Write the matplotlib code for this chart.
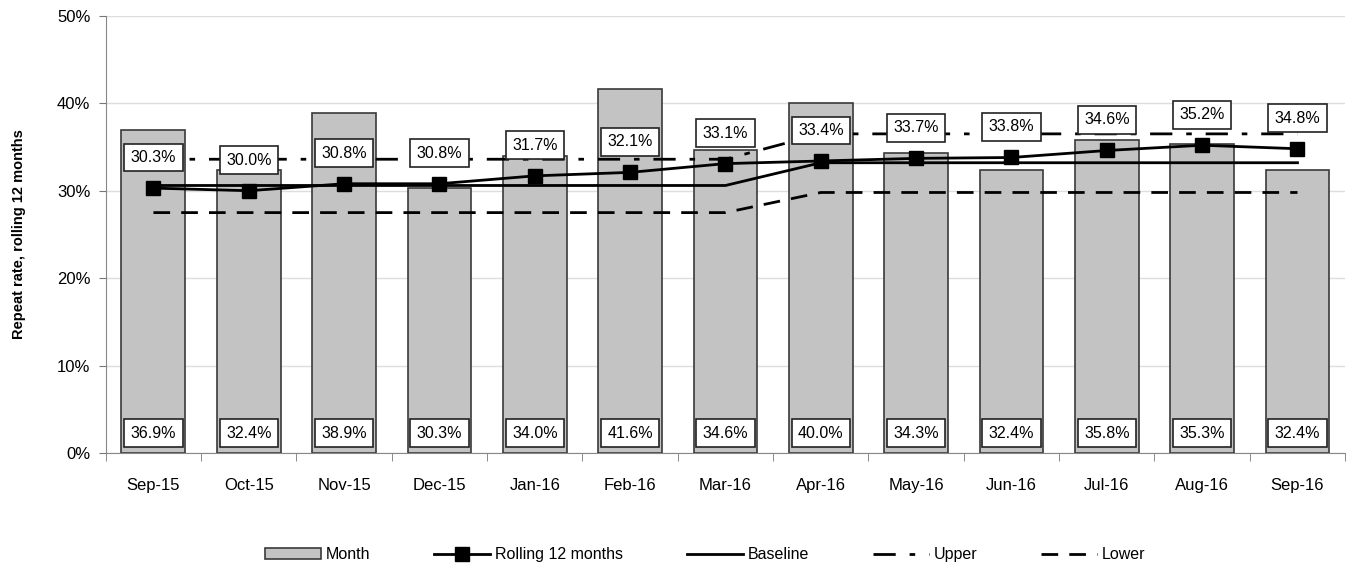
import matplotlib.pyplot as plt
from matplotlib.ticker import PercentFormatter, FixedLocator

plt.rcParams['font.family'] = ['Liberation Sans', 'DejaVu Sans']

months = ['Sep-15', 'Oct-15', 'Nov-15', 'Dec-15', 'Jan-16', 'Feb-16', 'Mar-16',
          'Apr-16', 'May-16', 'Jun-16', 'Jul-16', 'Aug-16', 'Sep-16']
month_rate = [36.9, 32.4, 38.9, 30.3, 34.0, 41.6, 34.6, 40.0, 34.3, 32.4, 35.8, 35.3, 32.4]
rolling = [30.3, 30.0, 30.8, 30.8, 31.7, 32.1, 33.1, 33.4, 33.7, 33.8, 34.6, 35.2, 34.8]
baseline = [30.6] * 7 + [33.2] * 6
upper = [33.6] * 7 + [36.5] * 6
lower = [27.5] * 7 + [29.8] * 6

x = list(range(len(months)))

fig = plt.figure(figsize=(13.56, 5.84), dpi=100)
ax = fig.add_axes([0.078, 0.224, 0.914, 0.749])

ax.bar(x, month_rate, width=0.67, color='#c3c3c3', edgecolor='#3a3a3a',
       linewidth=1.2, label='Month', zorder=2)
ax.plot(x, rolling, color='black', lw=2, marker='s', markersize=10,
        label='Rolling 12 months', zorder=4)
ax.plot(x, baseline, color='black', lw=2, label='Baseline', zorder=3)
ax.plot(x, upper, color='black', lw=2, dashes=(8, 5, 2, 5), label='Upper', zorder=3)
ax.plot(x, lower, color='black', lw=2, dashes=(6, 4), label='Lower', zorder=3)

box = dict(boxstyle='square,pad=0.4', fc='white', ec='#222222', lw=1.2)
for i in x:
    ax.annotate(f'{rolling[i]:.1f}%', (i, rolling[i]), xytext=(0, 22),
                textcoords='offset points', ha='center', va='center',
                fontsize=11.5, bbox=box, zorder=5)
    ax.annotate(f'{month_rate[i]:.1f}%', (i, 0), xytext=(0, 14.5),
                textcoords='offset points', ha='center', va='center',
                fontsize=11.5, bbox=box, zorder=5)

ax.set_xlim(-0.5, len(months) - 0.5)
ax.set_ylim(0, 50)
ax.set_yticks(range(0, 51, 10))
ax.yaxis.set_major_formatter(PercentFormatter(decimals=0))
ax.set_xticks(x)
ax.set_xticklabels(months)
ax.xaxis.set_minor_locator(FixedLocator([i - 0.5 for i in range(len(months) + 1)]))
ax.tick_params(axis='x', which='major', length=0, pad=18, labelsize=12)
ax.tick_params(axis='x', which='minor', length=6, color='#777777', direction='out')
ax.tick_params(axis='y', length=5, color='#777777', labelsize=12, pad=6)
ax.grid(axis='y', color='#dddddd', lw=1, zorder=0)
ax.set_axisbelow(True)
for s in ['top', 'right']:
    ax.spines[s].set_visible(False)
ax.spines['left'].set_color('#888888')
ax.spines['bottom'].set_color('#888888')
ax.set_ylabel('Repeat rate, rolling 12 months', fontsize=10.5, fontweight='bold',
              labelpad=22)

handles, labels = ax.get_legend_handles_labels()
order = [labels.index(n) for n in ['Month', 'Rolling 12 months', 'Baseline', 'Upper', 'Lower']]
fig.legend([handles[k] for k in order], [labels[k] for k in order],
           loc='center', bbox_to_anchor=(0.52, 0.05), ncol=5, frameon=False,
           fontsize=11.5, columnspacing=4, handlelength=3.5, handletextpad=0.3)

fig.savefig('out.png', dpi=100)
